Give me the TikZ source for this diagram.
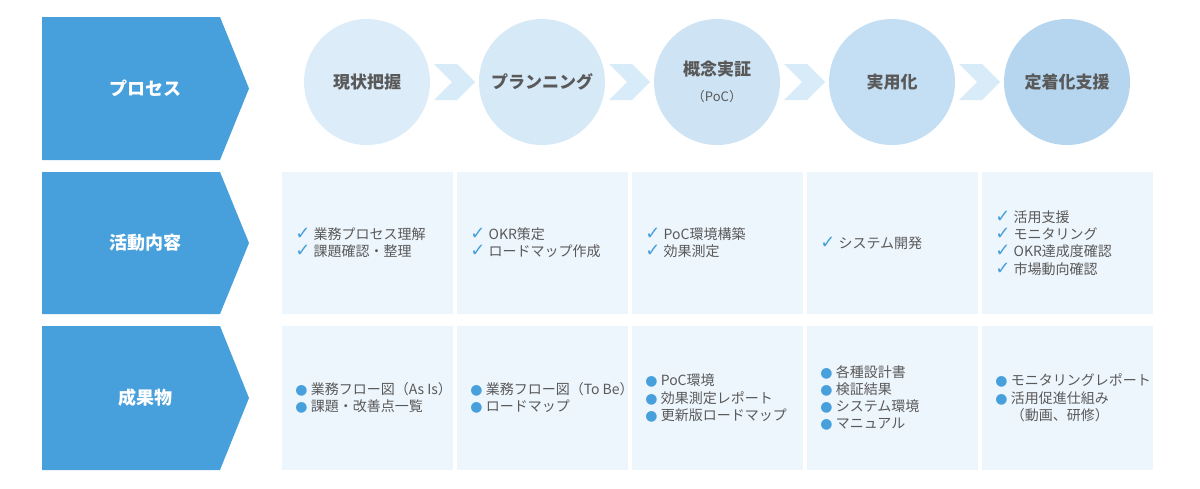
\documentclass[tikz,border=0pt]{standalone}
\usepackage{fontspec}
\setmainfont{Noto Sans CJK JP}
\newfontfamily\symf{DejaVu Sans}
\usetikzlibrary{positioning}
\definecolor{hdblue}{HTML}{479FDB}
\definecolor{cellbg}{HTML}{EEF6FD}
\definecolor{chev}{HTML}{D8EBF8}
\definecolor{txtgray}{HTML}{595959}
\definecolor{ph1}{HTML}{DCECF8}
\definecolor{ph2}{HTML}{D6E9F7}
\definecolor{ph3}{HTML}{CEE4F5}
\definecolor{ph4}{HTML}{C4DEF3}
\definecolor{ph5}{HTML}{B6D6EF}
\newcommand{\ck}{{\symf\color{hdblue}\small ✓}\ }
\newcommand{\bl}{{\symf\color{hdblue}●}\ }
\tikzset{
  header/.style={fill=hdblue},
  hdtext/.style={text=white, font=\fontsize{9}{11}\selectfont\bfseries},
  cell/.style={fill=cellbg},
  phase/.style={circle, minimum size=63pt, inner sep=0pt, font=\fontsize{8.5}{11}\selectfont\bfseries, text=txtgray, align=center},
  item/.style={anchor=west, align=left, text=txtgray, font=\fontsize{7}{8.6}\selectfont, inner sep=0pt}
}
\begin{document}
\begin{tikzpicture}[x=0.5pt, y=-0.5pt]
    \useasboundingbox (0,0) rectangle (1200,488);
    % row headers
    \foreach \yt/\yb/\name/\lbl in {17/160/hp/プロセス, 172/314/ha/活動内容, 326/470/hr/成果物} {
        \fill [header] (42,\yt) -- (220,\yt) -- (249,{(\yt+\yb)/2}) -- (220,\yb) -- (42,\yb) -- cycle;
        \node [hdtext] (\name) at (145,{(\yt+\yb)/2}) {\lbl};
    }
    % cells
    \foreach \i/\xl in {1/282, 2/457, 3/632, 4/807, 5/982} {
        \fill [cell] (\xl,172) rectangle ++(171,142);
        \fill [cell] (\xl,326) rectangle ++(171,144);
    }
    % chevrons
    \foreach \xs in {434, 609, 784, 959} {
        \fill [chev] (\xs,64) -- ++(23,0) -- ++(18,18) -- ++(-18,18) -- ++(-23,0) -- ++(18,-18) -- cycle;
    }
    % process circles
    \node [phase, fill=ph1] (s1) at (367,82) {現状把握};
    \node [phase, fill=ph2] (s2) at (542,82) {プランニング};
    \node [phase, fill=ph3] (s3) at (717,82) {概念実証\\[2pt]{\fontsize{6.5}{8}\selectfont\mdseries （PoC）}};
    \node [phase, fill=ph4] (s4) at (892,82) {実用化};
    \node [phase, fill=ph5] (s5) at (1067,82) {定着化支援};
    % activities
    \node [item] (a1) at (295,243) {\ck 業務プロセス理解\\\ck 課題確認・整理};
    \node [item] (a2) at (470,243) {\ck OKR策定\\\ck ロードマップ作成};
    \node [item] (a3) at (645,243) {\ck PoC環境構築\\\ck 効果測定};
    \node [item] (a4) at (820,243) {\ck システム開発};
    \node [item] (a5) at (995,243) {\ck 活用支援\\\ck モニタリング\\\ck OKR達成度確認\\\ck 市場動向確認};
    % deliverables
    \node [item] (r1) at (295,398) {\bl 業務フロー図（As Is）\\\bl 課題・改善点一覧};
    \node [item] (r2) at (470,398) {\bl 業務フロー図（To Be）\\\bl ロードマップ};
    \node [item] (r3) at (645,398) {\bl PoC環境\\\bl 効果測定レポート\\\bl 更新版ロードマップ};
    \node [item] (r4) at (820,398) {\bl 各種設計書\\\bl 検証結果\\\bl システム環境\\\bl マニュアル};
    \node [item] (r5) at (995,398) {\bl モニタリングレポート\\\bl 活用促進仕組み\\\phantom{\bl}（動画、研修）};
\end{tikzpicture}
\end{document}
